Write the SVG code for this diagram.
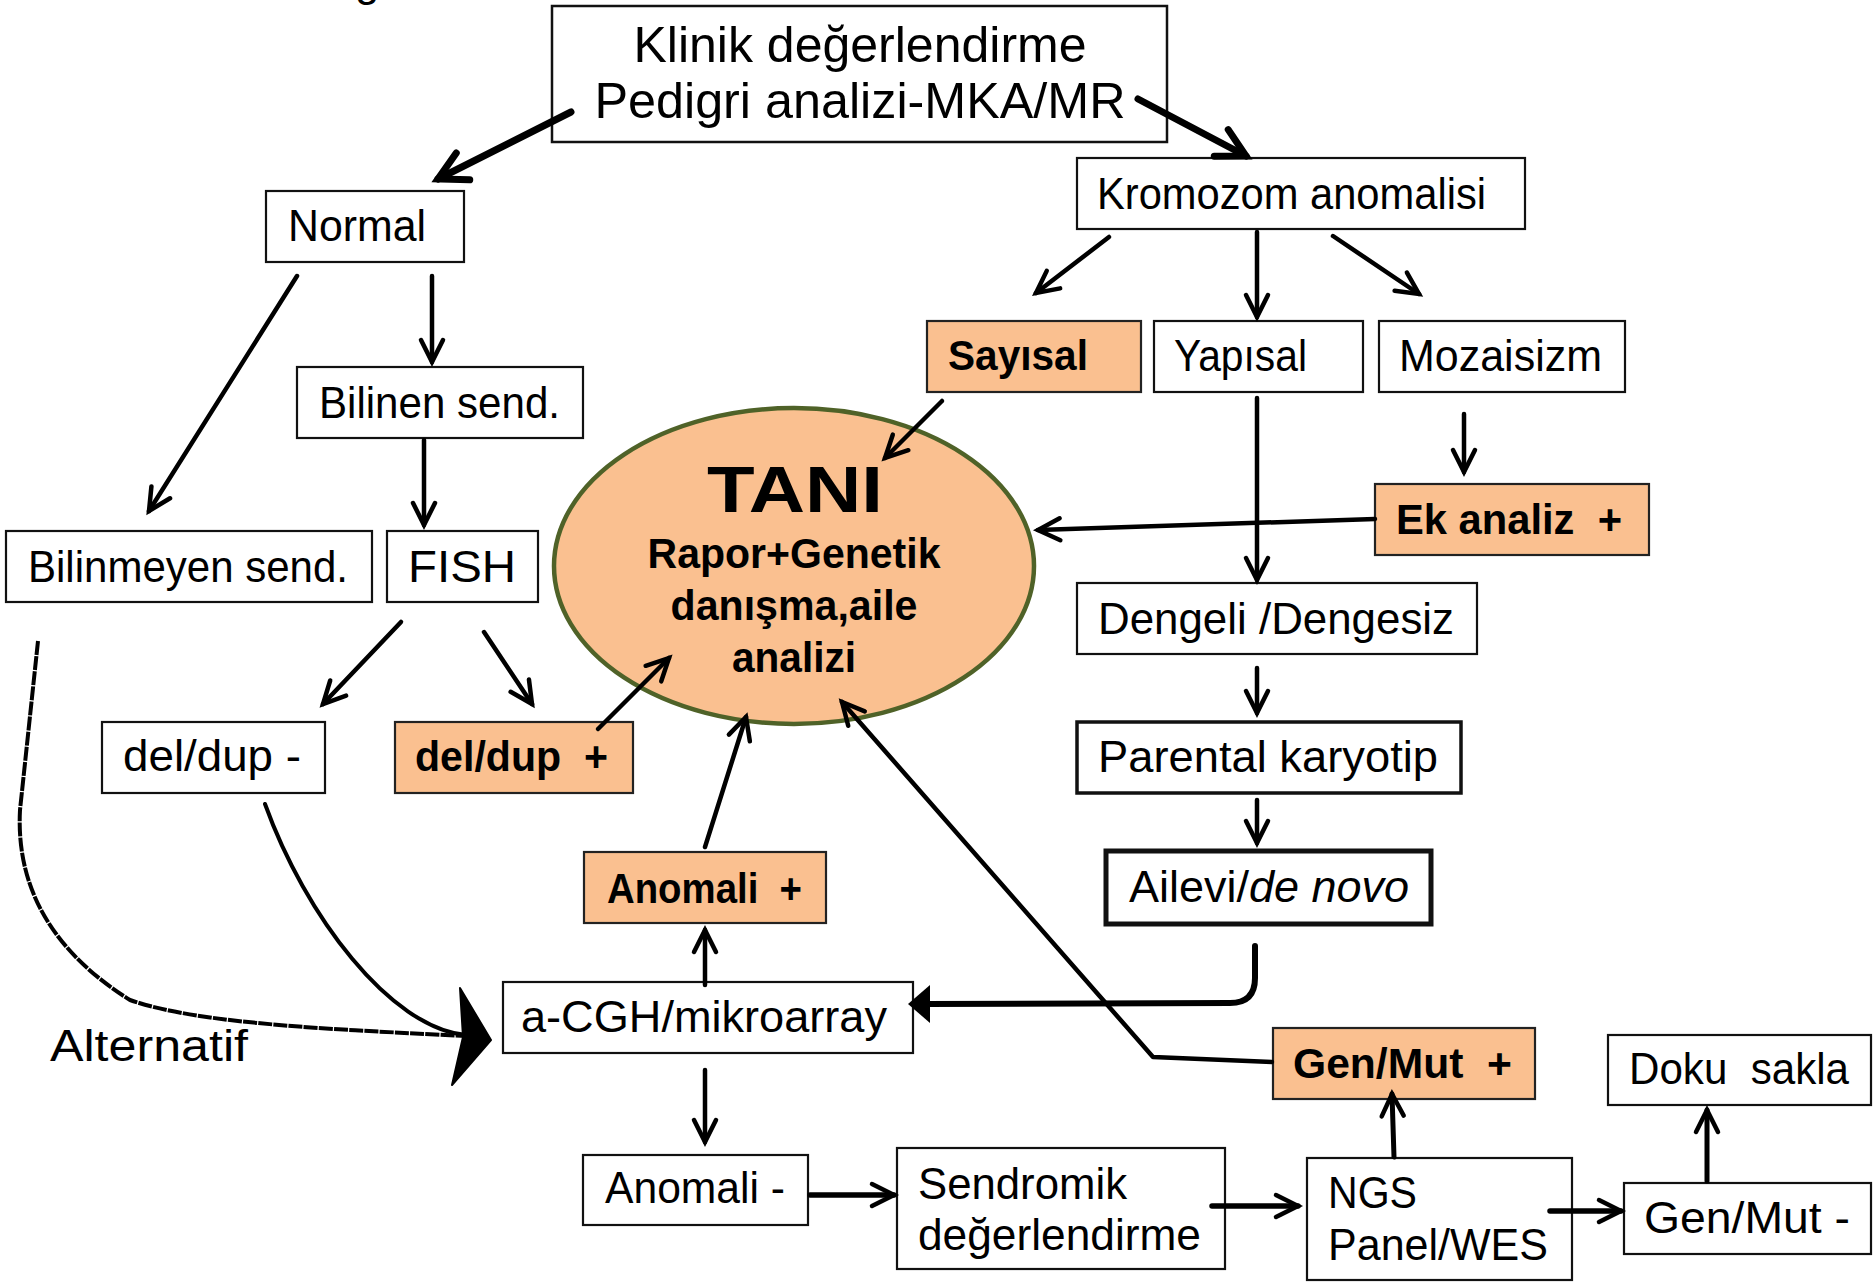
<svg xmlns="http://www.w3.org/2000/svg" width="1874" height="1283" viewBox="0 0 1874 1283">
<style>
  .box { fill: #ffffff; stroke: #111; stroke-width: 2.2; }
  .hl { fill: #FAC090; stroke: #222; stroke-width: 2.2; }
  .t { font-family: "Liberation Sans", Arial, sans-serif; font-size: 44px; fill: #000; }
  .tb { font-family: "Liberation Sans", Arial, sans-serif; font-size: 42px; font-weight: bold; fill: #000; }
  .big { font-size: 50px; }
  .huge { font-size: 64px; }
  .c { fill: none; stroke: #000; stroke-width: 4.5; stroke-linecap: round; stroke-linejoin: round; }
  .ck { fill: none; stroke: #000; stroke-width: 7; stroke-linecap: round; }
</style>
<defs>
  <marker id="arr" markerUnits="userSpaceOnUse" markerWidth="34" markerHeight="34" viewBox="-4 -4 34 34" refX="24" refY="12" orient="auto">
    <path d="M2,1 L24,12 L2,23" fill="none" stroke="#000" stroke-width="4.5" stroke-linecap="round" stroke-linejoin="miter"/>
  </marker>
  <marker id="arrBig" markerUnits="userSpaceOnUse" markerWidth="44" markerHeight="44" viewBox="-5 -5 44 44" refX="30" refY="16" orient="auto">
    <path d="M2,1 L30,16 L2,31" fill="none" stroke="#000" stroke-width="7" stroke-linecap="round" stroke-linejoin="miter"/>
  </marker>
</defs>

<text class="t" x="355" y="-4">g</text>

<g id="n-klinik">
  <rect class="box" x="552" y="6" width="615" height="136" style="stroke-width:2.5"/>
  <text class="t big" x="860" y="62" text-anchor="middle" textLength="453" lengthAdjust="spacingAndGlyphs">Klinik değerlendirme</text>
  <text class="t big" x="860" y="118" text-anchor="middle" textLength="531" lengthAdjust="spacingAndGlyphs">Pedigri analizi-MKA/MR</text>
</g>
<g id="n-normal">
  <rect class="box" x="266" y="191" width="198" height="71"/>
  <text class="t" x="288" y="241" textLength="138" lengthAdjust="spacingAndGlyphs">Normal</text>
</g>
<g id="n-kromozom">
  <rect class="box" x="1077" y="158" width="448" height="71"/>
  <text class="t" x="1097" y="209" textLength="389" lengthAdjust="spacingAndGlyphs">Kromozom anomalisi</text>
</g>
<g id="n-sayisal">
  <rect class="hl" x="927" y="321" width="214" height="71"/>
  <text class="tb" x="948" y="370" textLength="140" lengthAdjust="spacingAndGlyphs">Sayısal</text>
</g>
<g id="n-yapisal">
  <rect class="box" x="1154" y="321" width="209" height="71"/>
  <text class="t" x="1174" y="371" textLength="133" lengthAdjust="spacingAndGlyphs">Yapısal</text>
</g>
<g id="n-mozaisizm">
  <rect class="box" x="1379" y="321" width="246" height="71"/>
  <text class="t" x="1399" y="371" textLength="203" lengthAdjust="spacingAndGlyphs">Mozaisizm</text>
</g>
<g id="n-bilinen">
  <rect class="box" x="297" y="367" width="286" height="71"/>
  <text class="t" x="319" y="418" textLength="241" lengthAdjust="spacingAndGlyphs">Bilinen send.</text>
</g>
<g id="n-tani">
  <ellipse cx="794" cy="566" rx="240" ry="158" fill="#FAC090" stroke="#4F6228" stroke-width="4.5"/>
  <text class="tb huge" x="795" y="512" text-anchor="middle" textLength="176" lengthAdjust="spacingAndGlyphs">TANI</text>
  <text class="tb" x="794" y="568" text-anchor="middle" textLength="293" lengthAdjust="spacingAndGlyphs">Rapor+Genetik</text>
  <text class="tb" x="794" y="620" text-anchor="middle" textLength="247" lengthAdjust="spacingAndGlyphs">danışma,aile</text>
  <text class="tb" x="794" y="672" text-anchor="middle" textLength="124" lengthAdjust="spacingAndGlyphs">analizi</text>
</g>
<g id="n-ekanaliz">
  <rect class="hl" x="1375" y="484" width="274" height="71"/>
  <text class="tb" x="1396" y="534" textLength="226" lengthAdjust="spacingAndGlyphs" xml:space="preserve">Ek analiz  +</text>
</g>
<g id="n-bilinmeyen">
  <rect class="box" x="6" y="531" width="366" height="71"/>
  <text class="t" x="28" y="582" textLength="320" lengthAdjust="spacingAndGlyphs">Bilinmeyen send.</text>
</g>
<g id="n-fish">
  <rect class="box" x="387" y="531" width="151" height="71"/>
  <text class="t" x="408" y="582" textLength="108" lengthAdjust="spacingAndGlyphs">FISH</text>
</g>
<g id="n-dengeli">
  <rect class="box" x="1077" y="583" width="400" height="71"/>
  <text class="t" x="1098" y="634" textLength="356" lengthAdjust="spacingAndGlyphs">Dengeli /Dengesiz</text>
</g>
<g id="n-deldup-minus">
  <rect class="box" x="102" y="722" width="223" height="71"/>
  <text class="t" x="123" y="771" textLength="178" lengthAdjust="spacingAndGlyphs">del/dup -</text>
</g>
<g id="n-deldup-plus">
  <rect class="hl" x="395" y="722" width="238" height="71"/>
  <text class="tb" x="415" y="771" textLength="193" lengthAdjust="spacingAndGlyphs" xml:space="preserve">del/dup  +</text>
</g>
<g id="n-parental">
  <rect class="box" x="1077" y="722" width="384" height="71" style="stroke-width:3.5"/>
  <text class="t" x="1098" y="772" textLength="340" lengthAdjust="spacingAndGlyphs">Parental karyotip</text>
</g>
<g id="n-ailevi">
  <rect class="box" x="1106" y="851" width="325" height="73" style="stroke-width:5"/>
  <text class="t" x="1129" y="902" textLength="280" lengthAdjust="spacingAndGlyphs">Ailevi/<tspan font-style="italic">de novo</tspan></text>
</g>
<g id="n-anomali-plus">
  <rect class="hl" x="584" y="852" width="242" height="71"/>
  <text class="tb" x="607" y="903" textLength="195" lengthAdjust="spacingAndGlyphs" xml:space="preserve">Anomali  +</text>
</g>
<g id="n-acgh">
  <rect class="box" x="503" y="982" width="410" height="71"/>
  <text class="t" x="521" y="1032" textLength="366" lengthAdjust="spacingAndGlyphs">a-CGH/mikroarray</text>
</g>
<g id="n-alternatif">
  <text class="t" x="50" y="1061" textLength="198" lengthAdjust="spacingAndGlyphs">Alternatif</text>
</g>
<g id="n-genmut-plus">
  <rect class="hl" x="1273" y="1028" width="262" height="71"/>
  <text class="tb" x="1293" y="1078" textLength="219" lengthAdjust="spacingAndGlyphs" xml:space="preserve">Gen/Mut  +</text>
</g>
<g id="n-doku">
  <rect class="box" x="1608" y="1035" width="263" height="70"/>
  <text class="t" x="1629" y="1084" textLength="220" lengthAdjust="spacingAndGlyphs" xml:space="preserve">Doku  sakla</text>
</g>
<g id="n-anomali-minus">
  <rect class="box" x="583" y="1155" width="225" height="70"/>
  <text class="t" x="605" y="1203" textLength="180" lengthAdjust="spacingAndGlyphs">Anomali -</text>
</g>
<g id="n-sendromik">
  <rect class="box" x="897" y="1148" width="328" height="121"/>
  <text class="t" x="918" y="1199" textLength="209" lengthAdjust="spacingAndGlyphs">Sendromik</text>
  <text class="t" x="918" y="1250" textLength="283" lengthAdjust="spacingAndGlyphs">değerlendirme</text>
</g>
<g id="n-ngs">
  <rect class="box" x="1307" y="1158" width="265" height="122"/>
  <text class="t" x="1328" y="1208" textLength="89" lengthAdjust="spacingAndGlyphs">NGS</text>
  <text class="t" x="1328" y="1260" textLength="220" lengthAdjust="spacingAndGlyphs">Panel/WES</text>
</g>
<g id="n-genmut-minus">
  <rect class="box" x="1624" y="1183" width="247" height="71"/>
  <text class="t" x="1644" y="1233" textLength="206" lengthAdjust="spacingAndGlyphs">Gen/Mut -</text>
</g>

<g id="connectors">
  <path class="ck" d="M571,112 L438,179" marker-end="url(#arrBig)"/>
  <path class="ck" d="M1138,99 L1246,156" marker-end="url(#arrBig)"/>
  <path class="c" d="M297,276 L149,511" marker-end="url(#arr)"/>
  <path class="c" d="M432,276 L432,362" marker-end="url(#arr)"/>
  <path class="c" d="M424,440 L424,525" marker-end="url(#arr)"/>
  <path class="c" d="M1109,237 L1036,293" marker-end="url(#arr)"/>
  <path class="c" d="M1257,232 L1257,317" marker-end="url(#arr)"/>
  <path class="c" d="M1333,236 L1419,294" marker-end="url(#arr)"/>
  <path class="c" d="M942,401 L885,458" marker-end="url(#arr)"/>
  <path class="c" d="M1464,414 L1464,472" marker-end="url(#arr)"/>
  <path class="c" d="M1375,519 L1038,530" marker-end="url(#arr)"/>
  <path class="c" d="M1257,398 L1257,580" marker-end="url(#arr)"/>
  <path class="c" d="M401,622 L323,704" marker-end="url(#arr)"/>
  <path class="c" d="M484,632 L532,704" marker-end="url(#arr)"/>
  <path class="c" d="M598,729 L669,658" marker-end="url(#arr)"/>
  <path class="c" d="M1257,668 L1257,713" marker-end="url(#arr)"/>
  <path class="c" d="M1257,800 L1257,843" marker-end="url(#arr)"/>
  <path class="c" d="M705,847 L746,717" marker-end="url(#arr)"/>
  <path class="c" d="M1272,1062 L1153,1057 L842,702" marker-end="url(#arr)"/>
  <path class="c" d="M1255,946 L1255,978 Q1255,1003 1230,1003 L926,1004" style="stroke-width:6"/>
  <path d="M908,1004 L930,985 L930,1023 Z" fill="#000"/>
  <path class="c" d="M265,804 C305,915 390,1028 466,1035" style="stroke-width:4"/>
  <path d="M38,641 L20,810 C16,885 50,950 130,1000 C200,1025 350,1030 466,1036" fill="none" stroke="#000" stroke-width="4" stroke-dasharray="14 1.2"/>
  <path d="M460,988 L491,1040 L452,1085 L463,1037 Z" fill="#000" stroke="#000" stroke-width="2" stroke-linejoin="round"/>
  <path class="c" d="M705,985 L705,930" marker-end="url(#arr)"/>
  <path class="c" d="M705,1070 L705,1142" marker-end="url(#arr)"/>
  <path class="c" d="M810,1195 L894,1195" style="stroke-width:5.5" marker-end="url(#arr)"/>
  <path class="c" d="M1212,1206 L1298,1206" style="stroke-width:5.5" marker-end="url(#arr)"/>
  <path class="c" d="M1394,1157 L1392,1094" style="stroke-width:5" marker-end="url(#arr)"/>
  <path class="c" d="M1550,1211 L1621,1211" style="stroke-width:5.5" marker-end="url(#arr)"/>
  <path class="c" d="M1707,1181 L1707,1110" style="stroke-width:5" marker-end="url(#arr)"/>
</g>
</svg>
